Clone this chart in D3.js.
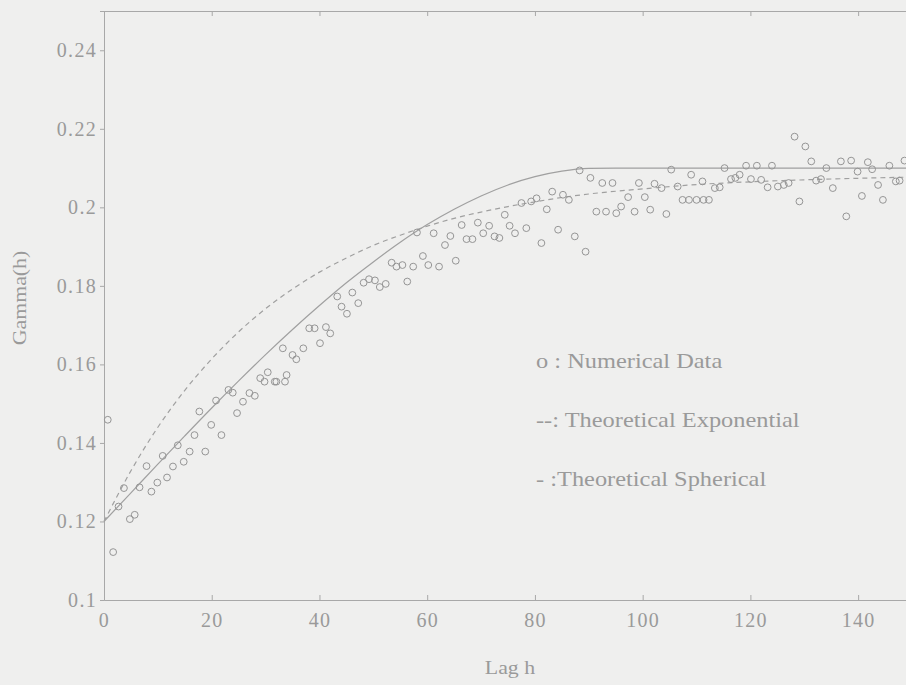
<!DOCTYPE html>
<meta charset="utf-8">
<script src="https://cdn.jsdelivr.net/npm/d3@7"></script>
<style>
body { margin: 0; background: #efefee; }
svg { display: block; }
text { font-family: "Liberation Serif", "DejaVu Serif", serif; fill: #9a9a9a; }
.tick line, .domain { stroke: #a8a8a8; }
path.curve { fill: none; stroke: #a0a0a0; stroke-width: 1.2px; }
circle.pt { fill: none; stroke: #959595; stroke-width: 1px; }
</style>
<body>
<script>

// lag values of the numerical (experimental) variogram points
var lagH = [0.7, 1.7, 2.7, 3.7, 4.8, 5.7, 6.6, 7.9, 8.8, 9.9,
  10.9, 11.7, 12.8, 13.7, 14.8, 15.9, 16.8, 17.7, 18.8, 19.9,
  20.8, 21.8, 23.1, 23.9, 24.7, 25.8, 27.0, 28.0, 29.0, 29.8,
  30.4, 31.7, 32.0, 33.2, 33.6, 33.9, 35.0, 35.7, 37.0, 38.1,
  39.1, 40.1, 41.2, 42.0, 43.3, 44.1, 45.1, 46.1, 47.2, 48.2,
  49.2, 50.3, 51.2, 52.3, 53.4, 54.3, 55.4, 56.3, 57.4, 58.1,
  59.2, 60.2, 61.2, 62.2, 63.3, 64.3, 65.3, 66.4, 67.3, 68.4,
  69.4, 70.4, 71.5, 72.5, 73.4, 74.4, 75.3, 76.3, 77.5, 78.4,
  79.3, 80.3, 81.2, 82.2, 83.2, 84.3, 85.2, 86.3, 87.4, 88.3,
  89.4, 90.3, 91.4, 92.5, 93.2, 94.4, 95.1, 96.0, 97.3, 98.5,
  99.3, 100.4, 101.4, 102.2, 103.5, 104.4, 105.3, 106.5, 107.4, 108.6,
  109.0, 110.0, 111.1, 111.3, 112.3, 113.4, 114.3, 115.2, 116.4, 117.2,
  118.0, 119.2, 120.1, 121.2, 122.0, 123.2, 124.0, 125.1, 126.2, 127.1,
  128.2, 129.1, 130.2, 131.3, 132.2, 133.1, 134.1, 135.3, 136.8, 137.8,
  138.7, 139.9, 140.7, 141.8, 142.6, 143.7, 144.6, 145.8, 147.0, 147.7,
  148.6];

var gammaH = [0.1459, 0.1122, 0.1238, 0.1285, 0.1206, 0.1217, 0.1287, 0.1341, 0.1276, 0.1299,
  0.1367, 0.1312, 0.1340, 0.1394, 0.1352, 0.1378, 0.1420, 0.1480, 0.1378, 0.1446,
  0.1508, 0.1420, 0.1535, 0.1528, 0.1476, 0.1505, 0.1527, 0.1520, 0.1565, 0.1556,
  0.1580, 0.1556, 0.1556, 0.1641, 0.1556, 0.1573, 0.1624, 0.1613, 0.1641, 0.1692,
  0.1692, 0.1654, 0.1695, 0.1679, 0.1773, 0.1747, 0.1729, 0.1783, 0.1756, 0.1808,
  0.1817, 0.1814, 0.1797, 0.1805, 0.1859, 0.1849, 0.1853, 0.1811, 0.1849, 0.1936,
  0.1876, 0.1853, 0.1934, 0.1849, 0.1904, 0.1927, 0.1864, 0.1955, 0.1919, 0.1919,
  0.1961, 0.1934, 0.1953, 0.1926, 0.1922, 0.1981, 0.1953, 0.1934, 0.2011, 0.1947,
  0.2015, 0.2023, 0.1909, 0.1995, 0.2040, 0.1943, 0.2032, 0.2019, 0.1926, 0.2094,
  0.1887, 0.2075, 0.1989, 0.2062, 0.1989, 0.2062, 0.1985, 0.2002, 0.2026, 0.1989,
  0.2062, 0.2026, 0.1994, 0.2060, 0.2049, 0.1983, 0.2096, 0.2053, 0.2019, 0.2019,
  0.2083, 0.2019, 0.2066, 0.2019, 0.2019, 0.2049, 0.2051, 0.2100, 0.2072, 0.2075,
  0.2083, 0.2106, 0.2072, 0.2106, 0.2070, 0.2051, 0.2106, 0.2053, 0.2057, 0.2062,
  0.2180, 0.2015, 0.2155, 0.2117, 0.2068, 0.2072, 0.2100, 0.2049, 0.2117, 0.1977,
  0.2119, 0.2091, 0.2029, 0.2115, 0.2097, 0.2057, 0.2019, 0.2106, 0.2066, 0.2068,
  0.2119];

var curveLag = [0, 5, 10, 15, 20, 25, 30, 35, 40, 45, 50, 55, 60, 65, 70,
  75, 80, 85, 90, 95, 100, 110, 120, 130, 140, 150];

var sphericalGamma = [0.1200, 0.1273, 0.1346, 0.1418, 0.1489, 0.1558, 0.1625, 0.1689, 0.1750, 0.1808,
  0.1861, 0.1911, 0.1956, 0.1995, 0.2029, 0.2057, 0.2078, 0.2092, 0.2099, 0.2100,
  0.2100, 0.2100, 0.2100, 0.2100, 0.2100, 0.2100];

var exponentialGamma = [0.1200, 0.1329, 0.1440, 0.1534, 0.1614, 0.1683, 0.1742, 0.1792, 0.1835, 0.1871,
  0.1903, 0.1929, 0.1952, 0.1972, 0.1988, 0.2002, 0.2014, 0.2025, 0.2034, 0.2041,
  0.2047, 0.2058, 0.2065, 0.2070, 0.2074, 0.2077];

var xTicks = [0, 20, 40, 60, 80, 100, 120, 140];
var yTicks = [0.1, 0.12, 0.14, 0.16, 0.18, 0.2, 0.22, 0.24];

var legendLabels = ["o : Numerical Data", "--: Theoretical Exponential", "- :Theoretical Spherical"];

var width = 906,
    height = 685;

var svg = d3.select("body").append("svg")
    .attr("width", width)
    .attr("height", height);

var x = d3.scaleLinear().domain([0, 150]).range([104, 912]);
var y = d3.scaleLinear().domain([0.1, 0.25]).range([600, 11]);

function tickText(g) {
  g.selectAll("text")
      .style("font-size", "20px")
      .style("letter-spacing", "1.3px")
      .style("font-family", "Liberation Serif")
      .attr("fill", "#9a9a9a");
}

// axes
svg.append("g")
    .attr("transform", "translate(0,600)")
    .call(d3.axisBottom(x).tickValues(xTicks).tickSize(-5).tickPadding(13).tickFormat(d3.format("d")))
    .call(tickText);

svg.append("g")
    .attr("transform", "translate(0,11)")
    .call(d3.axisTop(x).tickValues(xTicks).tickSize(-5).tickFormat(""));

svg.append("g")
    .attr("transform", "translate(104,0)")
    .call(d3.axisLeft(y).tickValues(yTicks).tickSize(4).tickPadding(3).tickFormat(function(d) { return d3.format("~g")(d); }))
    .call(tickText);

// theoretical curves
var line = d3.line()
    .x(function(d) { return x(d[0]); })
    .y(function(d) { return y(d[1]); })
    .curve(d3.curveMonotoneX);

svg.append("path")
    .attr("class", "curve")
    .attr("d", line(d3.zip(curveLag, sphericalGamma)));

svg.append("path")
    .attr("class", "curve")
    .style("stroke-dasharray", "5,4")
    .attr("d", line(d3.zip(curveLag, exponentialGamma)));

// numerical data
svg.append("g")
    .selectAll("circle")
    .data(d3.zip(lagH, gammaH))
    .enter()
    .append("circle")
    .attr("class", "pt")
    .attr("cx", function(d) { return x(d[0]); })
    .attr("cy", function(d) { return y(d[1]); })
    .attr("r", 3.4);

// legend (scan is stretched sideways, so widen the text)
svg.append("g")
    .selectAll("text")
    .data(legendLabels)
    .enter()
    .append("text")
    .attr("transform", function(d, i) { return "translate(536," + (368 + i * 59) + ") scale(1.22,1)"; })
    .style("font-size", "20px")
    .attr("fill", "#8c8c8c")
    .text(function(d) { return d; });

// axis titles
svg.append("text")
    .attr("transform", "translate(510,674) scale(1.15,1)")
    .attr("text-anchor", "middle")
    .style("font-size", "19px")
    .text("Lag h");

svg.append("text")
    .attr("transform", "translate(26,298) rotate(-90) scale(1.15,1)")
    .attr("text-anchor", "middle")
    .style("font-size", "19px")
    .text("Gamma(h)");

</script>
</body>
</html>
